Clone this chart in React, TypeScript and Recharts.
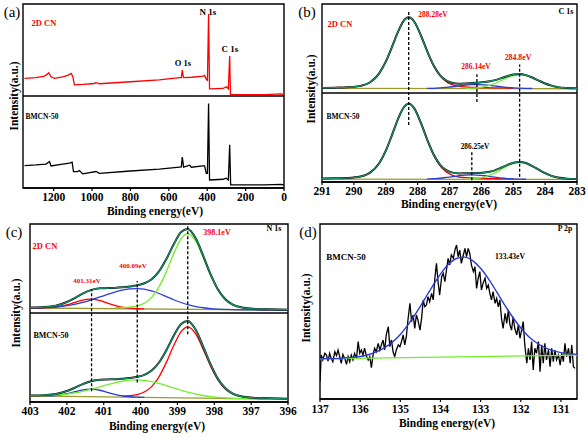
import React from "react";
import { LineChart, Line, XAxis, YAxis, ReferenceLine, ReferenceArea } from "recharts";

const FONT = '"Liberation Serif", "Times New Roman", serif';

// ---- (a) survey spectra ----
const aTopE = [1352, 1292, 1248, 1235, 1226, 1214, 1196, 1153, 1127, 1109, 1101, 1092, 1049, 1000, 979, 962, 800, 650, 544, 535, 530, 524, 480, 422, 414, 405, 399, 393, 388, 318, 301, 290, 283, 279, 100, 14, 5, 0];
const aTop = [119.1, 119.9, 121.7, 123.5, 125.3, 120.9, 119.1, 120.9, 122.4, 124.6, 121.5, 112.2, 112.6, 113.3, 114.4, 113.3, 115.5, 117.5, 119.9, 120.0, 128.2, 119.9, 120.4, 121.7, 122.4, 118.1, 117.0, 189.1, 107.8, 108.2, 110.0, 107.8, 143.5, 101.6, 101.6, 102.3, 101.6, 101.6];
const aBotE = [1352, 1292, 1240, 1222, 1214, 1153, 1118, 1104, 1097, 1075, 1066, 1049, 979, 962, 800, 650, 544, 535, 530, 523, 492, 483, 422, 414, 405, 399, 393, 388, 318, 301, 290, 283, 278, 100, 14, 5, 0];
const aBot = [24.4, 25.1, 26.0, 28.8, 24.0, 25.9, 27.0, 28.1, 17.9, 17.9, 19.0, 15.3, 17.9, 16.0, 18.5, 20.5, 22.6, 22.8, 33.5, 22.6, 24.8, 22.6, 24.0, 24.0, 16.0, 16.0, 91.8, 8.7, 9.5, 10.6, 8.7, 47.0, 3.3, 3.5, 4.0, 3.3, 3.3];
const aTicks = [0, 200, 400, 600, 800, 1000, 1200];

// ---- (b) C 1s ----
const bE = [291, 290.6, 290.2, 289.8, 289.5, 289.2, 289.0, 288.8, 288.6, 288.45, 288.28, 288.1, 287.9, 287.7, 287.5, 287.3, 287.1, 286.9, 286.7, 286.5, 286.3, 286.14, 285.9, 285.6, 285.4, 285.2, 285.0, 284.8, 284.6, 284.4, 284.2, 284.0, 283.8, 283.6, 283.3, 283.0];
const N = null;
const bTopEnv = [105.7, 106.0, 106.4, 108.0, 111.8, 122.4, 135.2, 152.2, 170.0, 180.4, 185.0, 179.8, 164.9, 147.0, 131.1, 120.2, 114.0, 111.2, 110.4, 110.7, 111.1, 111.5, 112.3, 114.2, 116.4, 118.8, 120.7, 121.4, 120.1, 117.4, 113.9, 110.7, 108.3, 106.6, 105.6, 105.3];
const bTopRed = [105.7, 106.0, 106.4, 108.0, 111.8, 122.4, 135.2, 152.2, 170.0, 180.4, 185.0, 179.8, 164.9, 146.8, 130.8, 119.5, 112.7, 109.2, 107.5, 106.8, 106.4, 106.2, 106.0, 105.8, 105.7, 105.6, 105.5, N, N, N, N, N, N, N, N, N];
const bTopBlue = [N, N, N, N, N, N, N, N, N, N, N, N, N, 105.2, 105.3, 105.7, 106.3, 107.0, 107.9, 108.8, 109.3, 109.5, 109.2, 108.0, 107.1, 106.3, 105.7, 105.4, 105.2, 105.1, N, N, N, N, N, N];
const bTopLime = [N, N, N, N, N, N, N, N, N, N, N, N, N, N, N, N, N, N, N, 105.1, 105.4, 105.8, 107.1, 110.4, 113.6, 116.9, 119.5, 120.5, 119.5, 116.9, 113.6, 110.4, 108.0, 106.4, 105.4, 105.1];
const bBotEnv = [3.8, 4.1, 4.5, 6.1, 10.2, 21.4, 35.0, 53.2, 72.1, 83.1, 88.0, 82.5, 66.7, 47.7, 31.1, 19.6, 13.3, 10.5, 9.6, 9.8, 9.9, 10.1, 10.6, 12.8, 15.7, 19.0, 21.7, 22.6, 21.3, 17.9, 13.8, 9.9, 6.9, 5.0, 3.7, 3.3];
const bBotRed = [3.8, 4.1, 4.5, 6.1, 10.2, 21.4, 35.0, 53.2, 72.1, 83.1, 88.0, 82.5, 66.7, 47.4, 30.4, 18.4, 11.2, 7.5, 5.6, 4.9, 4.4, 4.3, 4.0, 3.7, 3.6, 3.5, 3.4, N, N, N, N, N, N, N, N, N];
const bBotBlue = [N, N, N, N, N, N, N, N, N, N, N, N, N, 3.3, 3.7, 4.2, 5.1, 6.0, 7.0, 7.7, 8.0, 7.8, 7.0, 5.5, 4.6, 3.9, 3.5, 3.2, 3.1, N, N, N, N, N, N, N];
const bBotLime = [N, N, N, N, N, N, N, N, N, N, N, N, N, N, N, N, N, N, N, 3.2, 3.5, 4.0, 5.6, 9.6, 13.5, 17.6, 20.8, 22.0, 20.8, 17.6, 13.5, 9.6, 6.6, 4.8, 3.5, 3.1];
const bBaseE = [291, 283];
const bTopBase = [105.2, 104.8];
const bBotBase = [3.2, 2.9];
const bTicks = [283, 284, 285, 286, 287, 288, 289, 290, 291];

// ---- (c) N 1s ----
const cE = [403, 402.6, 402.3, 402.0, 401.8, 401.6, 401.35, 401.1, 400.9, 400.7, 400.5, 400.3, 400.09, 399.9, 399.7, 399.5, 399.3, 399.1, 398.9, 398.72, 398.5, 398.3, 398.1, 397.9, 397.7, 397.5, 397.2, 396.9, 396.5, 396.0];
const cTopEnv = [106.1, 106.7, 108.3, 112.4, 116.5, 121.2, 125.7, 127.7, 128.0, 128.2, 128.8, 129.7, 131.1, 133.4, 137.9, 146.8, 160.6, 177.3, 191.1, 194.4, 183.6, 164.2, 143.3, 126.4, 115.4, 109.4, 105.8, 104.6, 104.1, 103.7];
const cTopRed = [105.6, 105.7, 106.5, 109.0, 111.6, 114.2, 115.6, 114.0, 111.2, 108.6, 106.5, 105.4, 104.8, 104.7, N, N, N, N, N, N, N, N, N, N, N, N, N, N, N, N];
const cTopBlue = [105.8, 106.2, 106.9, 108.3, 109.8, 111.7, 114.6, 118.0, 120.8, 123.5, 125.7, 127.1, 127.5, 126.9, 124.8, 121.9, 118.4, 114.9, 111.8, 109.4, 107.2, 105.9, 104.9, 104.3, 104.0, 103.8, 103.6, 103.4, 103.3, 103.1];
const cTopLime = [N, N, N, N, N, N, N, N, N, 105.9, 106.2, 106.6, 108.0, 111.0, 117.6, 129.3, 146.5, 166.7, 183.5, 189.1, 180.4, 162.3, 142.3, 125.9, 115.1, 109.3, 105.8, 104.6, 104.1, 103.7];
const cBotEnv = [7.3, 7.7, 8.9, 12.3, 15.7, 19.5, 23.3, 25.1, 25.4, 25.6, 26.0, 27.0, 28.3, 30.5, 35.3, 44.4, 58.2, 74.5, 87.7, 91.0, 80.8, 62.1, 42.2, 26.0, 15.4, 9.4, 5.8, 4.6, 4.1, 3.6];
const cBotRed = [N, N, N, N, N, N, N, N, N, N, 6.6, 7.1, 8.4, 11.2, 17.3, 28.3, 44.5, 63.4, 79.1, 84.5, 76.3, 59.1, 40.3, 24.8, 14.7, 9.0, 5.7, 4.6, 4.1, 3.6];
const cBotLime = [7.0, 7.2, 7.7, 8.9, 10.1, 11.6, 14.1, 17.0, 19.4, 21.6, 23.3, 24.5, 24.9, 24.4, 23.0, 21.0, 18.5, 15.8, 13.2, 11.0, 8.9, 7.3, 6.0, 5.2, 4.6, 4.2, 3.7, 3.5, 3.3, 3.0];
const cBotBlue = [N, 6.8, 7.3, 9.3, 11.4, 13.4, 14.5, 13.2, 10.9, 8.6, 6.8, 5.9, 5.4, 5.1, N, N, N, N, N, N, N, N, N, N, N, N, N, N, N, N];
const cBaseE = [403, 396];
const cTopBase = [105.6, 103.1];
const cBotBase = [6.8, 3.0];
const cTicks = [396, 397, 398, 399, 400, 401, 402, 403];

// ---- (d) P 2p ----
const dRawE = [
  137.0, 136.97, 136.93, 136.88, 136.84, 136.80, 136.76, 136.72, 136.68, 136.63,
  136.59, 136.55, 136.51, 136.47, 136.43, 136.38, 136.34, 136.30, 136.26, 136.22,
  136.18, 136.14, 136.09, 136.05, 136.01, 135.97, 135.93, 135.89, 135.84, 135.80,
  135.76, 135.72, 135.68, 135.64, 135.60, 135.55, 135.51, 135.47, 135.43, 135.39,
  135.35, 135.30, 135.26, 135.22, 135.18, 135.14, 135.10, 135.05, 135.01, 134.97,
  134.93, 134.89, 134.85, 134.81, 134.76, 134.72, 134.68, 134.64, 134.60, 134.56,
  134.51, 134.47, 134.43, 134.39, 134.35, 134.31, 134.27, 134.22, 134.18, 134.14,
  134.10, 134.06, 134.02, 133.97, 133.93, 133.89, 133.85, 133.81,
  133.77, 133.73, 133.68, 133.64, 133.60, 133.56, 133.52, 133.48, 133.43, 133.39,
  133.35, 133.31, 133.27, 133.23, 133.18, 133.14, 133.10, 133.06, 133.02, 132.98,
  132.94, 132.89, 132.85, 132.81, 132.77, 132.73, 132.69, 132.64, 132.60, 132.56,
  132.52, 132.48, 132.44, 132.39, 132.35, 132.31, 132.27, 132.23, 132.19, 132.15,
  132.10, 132.06, 132.02, 131.98, 131.94, 131.90, 131.85, 131.81, 131.77, 131.73,
  131.69, 131.65, 131.61, 131.56, 131.52, 131.48, 131.44, 131.40, 131.36, 131.31,
  131.27, 131.23, 131.19, 131.15, 131.11, 131.06, 131.02, 130.98, 130.94, 130.90,
  130.86, 130.81, 130.77, 130.73, 130.69, 130.65,
];
const dRaw = [
  9.9, 25.1, 22.3, 26.1, 25.1, 21.7, 26.1, 23.2, 21.3, 27.0,
  24.8, 28.0, 24.2, 20.4, 25.5, 22.9, 19.8, 24.2, 21.3, 25.1,
  22.3, 26.1, 23.2, 32.8, 26.1, 28.0, 25.1, 29.0, 24.2, 22.3,
  24.2, 17.9, 25.1, 29.0, 27.0, 31.8, 28.0, 30.9, 33.7, 28.0,
  36.6, 41.3, 29.9, 33.7, 27.0, 24.2, 28.0, 30.9, 29.9, 32.8,
  36.6, 30.9, 35.6, 45.1, 54.7, 44.2, 48.0, 40.4, 48.0, 45.1,
  39.4, 46.1, 56.6, 52.7, 53.7, 58.5, 55.6, 60.4, 56.6, 69.0,
  77.5, 67.0, 59.4, 69.9, 71.8, 67.0, 73.7, 80.4,
  76.6, 82.3, 80.4, 85.1, 88.0, 81.3, 85.1, 77.5, 82.3, 86.1,
  81.3, 86.1, 83.2, 76.6, 72.8, 75.6, 63.2, 69.0, 72.8, 62.3,
  66.1, 69.0, 63.2, 65.1, 60.4, 56.6, 61.3, 54.7, 57.5, 52.7,
  56.6, 46.1, 40.4, 49.0, 43.2, 50.9, 42.3, 39.4, 47.0, 40.4,
  36.6, 42.3, 34.7, 39.4, 44.2, 30.9, 20.4, 29.0, 22.3, 32.8,
  16.6, 29.0, 26.1, 32.8, 15.6, 30.9, 20.4, 31.8, 22.3, 28.0,
  18.5, 29.0, 21.3, 28.0, 22.3, 25.1, 19.4, 26.1, 21.3, 31.8,
  24.2, 29.0, 20.4, 30.9, 18.5, 17.5,
];
const dFitE = [137.0, 136.8, 136.6, 136.4, 136.2, 136.0, 135.8, 135.6, 135.4, 135.2, 135.0, 134.8, 134.6, 134.4, 134.2, 134.0, 133.8, 133.6, 133.4, 133.2, 133.0, 132.8, 132.6, 132.4, 132.2, 132.0, 131.8, 131.6, 131.4, 131.2, 131.0, 130.8, 130.6];
const dFit = [22.9, 23.1, 23.1, 23.4, 23.8, 24.3, 25.3, 26.9, 29.2, 32.4, 36.9, 42.6, 49.3, 56.8, 64.4, 71.4, 77.0, 80.3, 81.1, 79.1, 74.7, 68.5, 61.2, 53.7, 46.7, 40.6, 35.6, 32.0, 29.3, 27.6, 26.5, 25.9, 25.5];
const dBaseE = [137, 130.6];
const dBase = [22.9, 25.1];
const dTicks = [131, 132, 133, 134, 135, 136, 137];

const RED = "#ff0000";
const BLUE = "#2b3bd4";
const LIME = "#6ff02a";
const TEAL = "#16936a";
const OLIVE = "#9c9a2c";

const rows = (xs: number[], ys: (number | null)[]) => xs.map((e, i) => ({ e, v: ys[i] }));

type Series = { xs: number[]; ys: (number | null)[]; color: string; w: number; curve?: "monotone" | "linear" };
type Dash = { x: number; y1: number; y2: number };

const tickStyle = { fontSize: 11.5, fontWeight: 700, fill: "#000", fontFamily: FONT };

function Spectrum(p: {
  left: number; top: number; width: number; height: number;
  margin: { top: number; right: number; bottom: number; left: number };
  axisH: number; domain: [number, number]; ticks: number[]; yMax: number; split: boolean;
  series: Series[]; dashes: Dash[]; tickMargin?: number;
}) {
  return (
    <div style={{ position: "absolute", left: p.left, top: p.top }}>
      <LineChart width={p.width} height={p.height} margin={p.margin}>
        <XAxis
          type="number" dataKey="e" domain={p.domain} reversed ticks={p.ticks} interval={0}
          height={p.axisH} tick={tickStyle} tickSize={3} tickMargin={p.tickMargin ?? 2}
          axisLine={{ stroke: "#000", strokeWidth: 1.4 }} tickLine={{ stroke: "#000", strokeWidth: 1.2 }}
          allowDataOverflow
        />
        <YAxis hide type="number" domain={[0, p.yMax]} allowDataOverflow />
        <ReferenceArea x1={p.domain[0]} x2={p.domain[1]} y1={0} y2={p.yMax} fill="none" fillOpacity={0} stroke="#000" strokeWidth={1.4} />
        {p.split && <ReferenceLine y={p.yMax / 2} stroke="#000" strokeWidth={1.4} />}
        {p.series.map((s, i) => (
          <Line
            key={i} data={rows(s.xs, s.ys)} dataKey="v" type={s.curve ?? "monotone"}
            stroke={s.color} strokeWidth={s.w} dot={false} activeDot={false} isAnimationActive={false}
          />
        ))}
        {p.dashes.map((d, i) => (
          <ReferenceLine
            key={"d" + i} segment={[{ x: d.x, y: d.y1 }, { x: d.x, y: d.y2 }]}
            stroke="#000" strokeWidth={1.3} strokeDasharray="3 2"
          />
        ))}
      </LineChart>
    </div>
  );
}

function T({ x, y, size = 8, color = "#000", weight = 700, rot = 0, children }: {
  x: number; y: number; size?: number; color?: string; weight?: number; rot?: number; children: React.ReactNode;
}) {
  return (
    <div style={{
      position: "absolute", left: x, top: y, transform: `translate(-50%,-50%) rotate(${rot}deg)`,
      fontSize: size, fontWeight: weight, color, whiteSpace: "nowrap", lineHeight: 1, fontFamily: FONT,
    }}>{children}</div>
  );
}

// fitted-component set for one spectrum: baseline, peaks, raw (black) and envelope
function fitSet(xs: number[], baseE: number[], base: number[], red: (number | null)[], blue: (number | null)[], lime: (number | null)[], env: number[]): Series[] {
  return [
    { xs: baseE, ys: base, color: OLIVE, w: 1.3, curve: "linear" },
    { xs, ys: red, color: RED, w: 1.3 },
    { xs, ys: blue, color: BLUE, w: 1.3 },
    { xs, ys: lime, color: LIME, w: 1.3 },
    { xs, ys: env, color: "#111", w: 2.0 },
    { xs, ys: env, color: TEAL, w: 1.2 },
  ];
}

export default function App() {
  return (
    <div style={{ position: "absolute", left: 0, top: 0, width: 588, height: 438, background: "#fff", overflow: "hidden", fontFamily: FONT }}>
      <Spectrum
        left={0} top={0} width={294} height={219}
        margin={{ top: 4, right: 10, bottom: 0, left: 23 }} axisH={31}
        domain={[0, 1360]} ticks={aTicks} yMax={200} split
        series={[
          { xs: aTopE, ys: aTop, color: RED, w: 1.3, curve: "linear" },
          { xs: aBotE, ys: aBot, color: "#000", w: 1.3, curve: "linear" },
        ]}
        dashes={[]}
      />
      <Spectrum
        left={294} top={0} width={294} height={219}
        margin={{ top: 4, right: 11, bottom: 0, left: 28 }} axisH={37}
        domain={[283, 291]} ticks={bTicks} yMax={200} split
        series={[
          ...fitSet(bE, bBaseE, bTopBase, bTopRed, bTopBlue, bTopLime, bTopEnv),
          ...fitSet(bE, bBaseE, bBotBase, bBotRed, bBotBlue, bBotLime, bBotEnv),
        ]}
        dashes={[
          { x: 288.28, y1: 64, y2: 191 },
          { x: 286.14, y1: 90, y2: 121 },
          { x: 284.8, y1: 6, y2: 132 },
          { x: 286.3, y1: 2, y2: 34 },
        ]}
      />
      <Spectrum
        left={0} top={219} width={310} height={219}
        margin={{ top: 5, right: 22, bottom: 0, left: 30 }} axisH={36}
        domain={[396, 403]} ticks={cTicks} yMax={200} split
        series={[
          ...fitSet(cE, cBaseE, cTopBase, cTopRed, cTopBlue, cTopLime, cTopEnv),
          ...fitSet(cE, cBaseE, cBotBase, cBotRed, cBotBlue, cBotLime, cBotEnv),
        ]}
        dashes={[
          { x: 401.33, y1: 12, y2: 127 },
          { x: 400.09, y1: 22, y2: 136 },
          { x: 398.72, y1: 76, y2: 198 },
        ]}
      />
      <Spectrum
        left={294} top={219} width={294} height={219}
        margin={{ top: 5, right: 11, bottom: 0, left: 26 }} axisH={39} tickMargin={3}
        domain={[130.6, 137]} ticks={dTicks} yMax={100} split={false}
        series={[
          { xs: dRawE, ys: dRaw, color: "#000", w: 1.3, curve: "linear" },
          { xs: dBaseE, ys: dBase, color: LIME, w: 1.4, curve: "linear" },
          { xs: dFitE, ys: dFit, color: BLUE, w: 1.4 },
        ]}
        dashes={[]}
      />

      {/* (a) */}
      <T x={12} y={12} size={15} weight={400}>(a)</T>
      <T x={44} y={23} size={8.5} color={RED}>2D CN</T>
      <T x={208} y={12} size={9}>N 1s</T>
      <T x={183} y={63} size={8.5}>O 1s</T>
      <T x={230} y={49} size={9}>C 1s</T>
      <T x={42} y={117} size={7.5}>BMCN-50</T>
      <T x={15} y={96} size={11.5} rot={-90}>Intensity(a.u.)</T>
      <T x={155} y={212} size={11.5}>Binding energy(eV)</T>

      {/* (b) */}
      <T x={307} y={12} size={15} weight={400}>(b)</T>
      <T x={340} y={24} size={8.5} color={RED}>2D CN</T>
      <T x={566} y={12} size={8}>C 1s</T>
      <T x={433} y={15} size={7.5} color={RED}>288.28eV</T>
      <T x={476} y={67} size={7.5} color={RED}>286.14eV</T>
      <T x={518} y={58} size={7.8} color={RED}>284.8eV</T>
      <T x={343} y={117} size={7.5}>BMCN-50</T>
      <T x={475} y={147} size={7.3}>286.25eV</T>
      <T x={312} y={89} size={11.5} rot={-90}>Intensity(a.u.)</T>
      <T x={449} y={205} size={11.5}>Binding energy(eV)</T>

      {/* (c) */}
      <T x={14} y={232} size={15} weight={400}>(c)</T>
      <T x={45} y={246} size={8.5} color={RED}>2D CN</T>
      <T x={274} y={229} size={8}>N 1s</T>
      <T x={217} y={233} size={8} color={RED}>398.1eV</T>
      <T x={133} y={266} size={7} color={RED}>400.09eV</T>
      <T x={87} y={281} size={7} color={RED}>401.31eV</T>
      <T x={51} y={336} size={8}>BMCN-50</T>
      <T x={17} y={313} size={11.5} rot={-90}>Intensity(a.u.)</T>
      <T x={157} y={427} size={11.5}>Binding energy(eV)</T>

      {/* (d) */}
      <T x={308} y={232} size={15} weight={400}>(d)</T>
      <T x={565} y={229} size={7.8}>P 2p</T>
      <T x={346} y={257} size={9}>BMCN-50</T>
      <T x={510} y={257} size={7.7}>133.43eV</T>
      <T x={307} y={308} size={11.5} rot={-90}>Intensity(a.u.)</T>
      <T x={447} y={424} size={11.5}>Binding energy(eV)</T>
    </div>
  );
}
